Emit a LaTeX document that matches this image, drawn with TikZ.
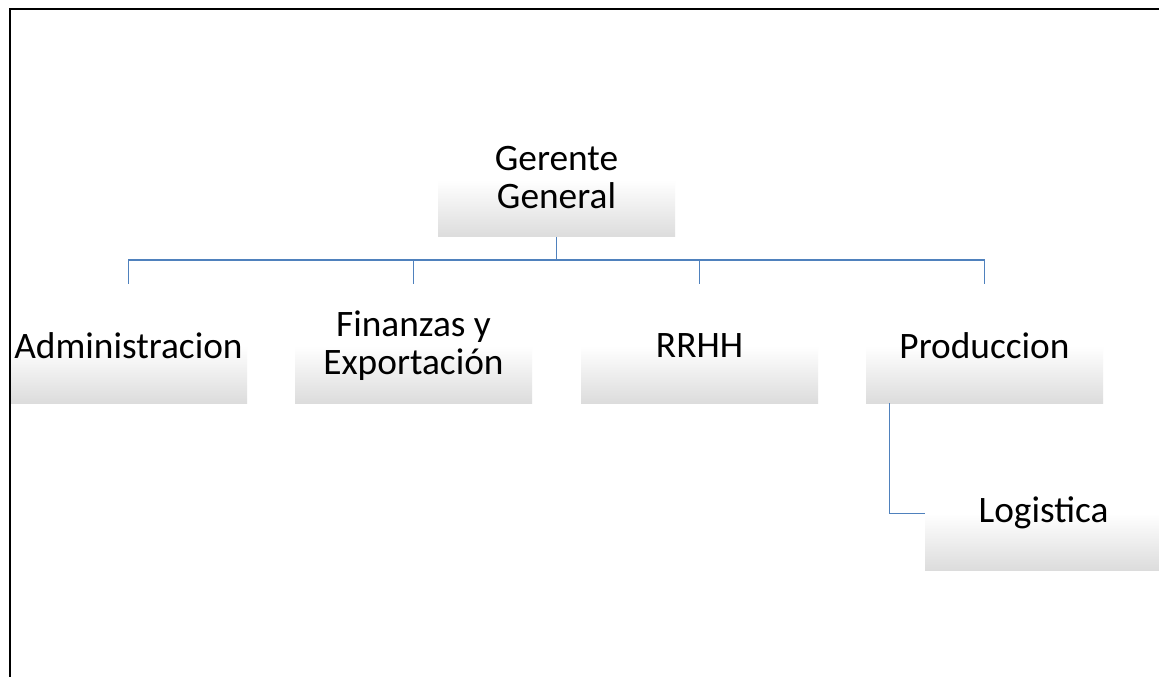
\documentclass[tikz,border=0pt]{standalone}
\usepackage{fontspec}
\setmainfont{Carlito}
\usepackage{tikz}
\usetikzlibrary{positioning}
\definecolor{linkblue}{HTML}{4F81BD}
\definecolor{boxgray}{HTML}{DCDCDC}
\tikzset{
    orgbox/.style={rectangle, inner sep=0pt, minimum width=177.75pt, minimum height=42.75pt, top color=white, bottom color=boxgray},
    orgtext/.style={inner sep=0pt, align=center, font=\fontsize{28pt}{28.5pt}\selectfont},
    orglink/.style={draw=linkblue, line width=0.8pt}
}

\begin{document}
\begin{tikzpicture}[x=0.75pt, y=-0.75pt]
            \useasboundingbox (0, 0) rectangle (1159, 677);
            \fill[white] (0, 0) rectangle (1159, 677);

            % boxes
            \node [orgbox] (ger) at (556.5, 208.5) {};
            \node [orgbox] (adm) at (128.5, 374.5) {};
            \node [orgbox] (fin) at (413.5, 374.5) {};
            \node [orgbox] (rrhh) at (699.5, 374.5) {};
            \node [orgbox] (prod) at (984.5, 374.5) {};
            \node [orgbox] (log) at (1043.5, 542) {};

            % labels
            \node [orgtext] (ger-t) at ([yshift=2pt]ger.north) {Gerente\\General};
            \node [orgtext] (adm-t) at (adm.north) {Administracion};
            \node [orgtext] (fin-t) at (fin.north) {Finanzas y\\Exportación};
            \node [orgtext] (rrhh-t) at (rrhh.north) {RRHH};
            \node [orgtext] (prod-t) at (prod.north) {Produccion};
            \node [orgtext] (log-t) at (log.north) {Logistica};

            % connectors
            \coordinate (bus) at (556.5, 260);
            \coordinate (adm-in) at (128.5, 284);
            \coordinate (fin-in) at (413.5, 284);
            \coordinate (rrhh-in) at (699.5, 284);
            \coordinate (prod-in) at (984.5, 284);
            \draw[orglink] (ger.south) -- (bus);
            \draw[orglink] (bus) -| (adm-in);
            \draw[orglink] (bus) -| (fin-in);
            \draw[orglink] (bus) -| (rrhh-in);
            \draw[orglink] (bus) -| (prod-in);
            \draw[orglink] ([xshift=18pt]prod.south west) |- (log.north west);

            % frame
            \draw[line width=1.8pt] (10, 677) -- (10, 9) -- (1159, 9);
        \end{tikzpicture}
\end{document}
